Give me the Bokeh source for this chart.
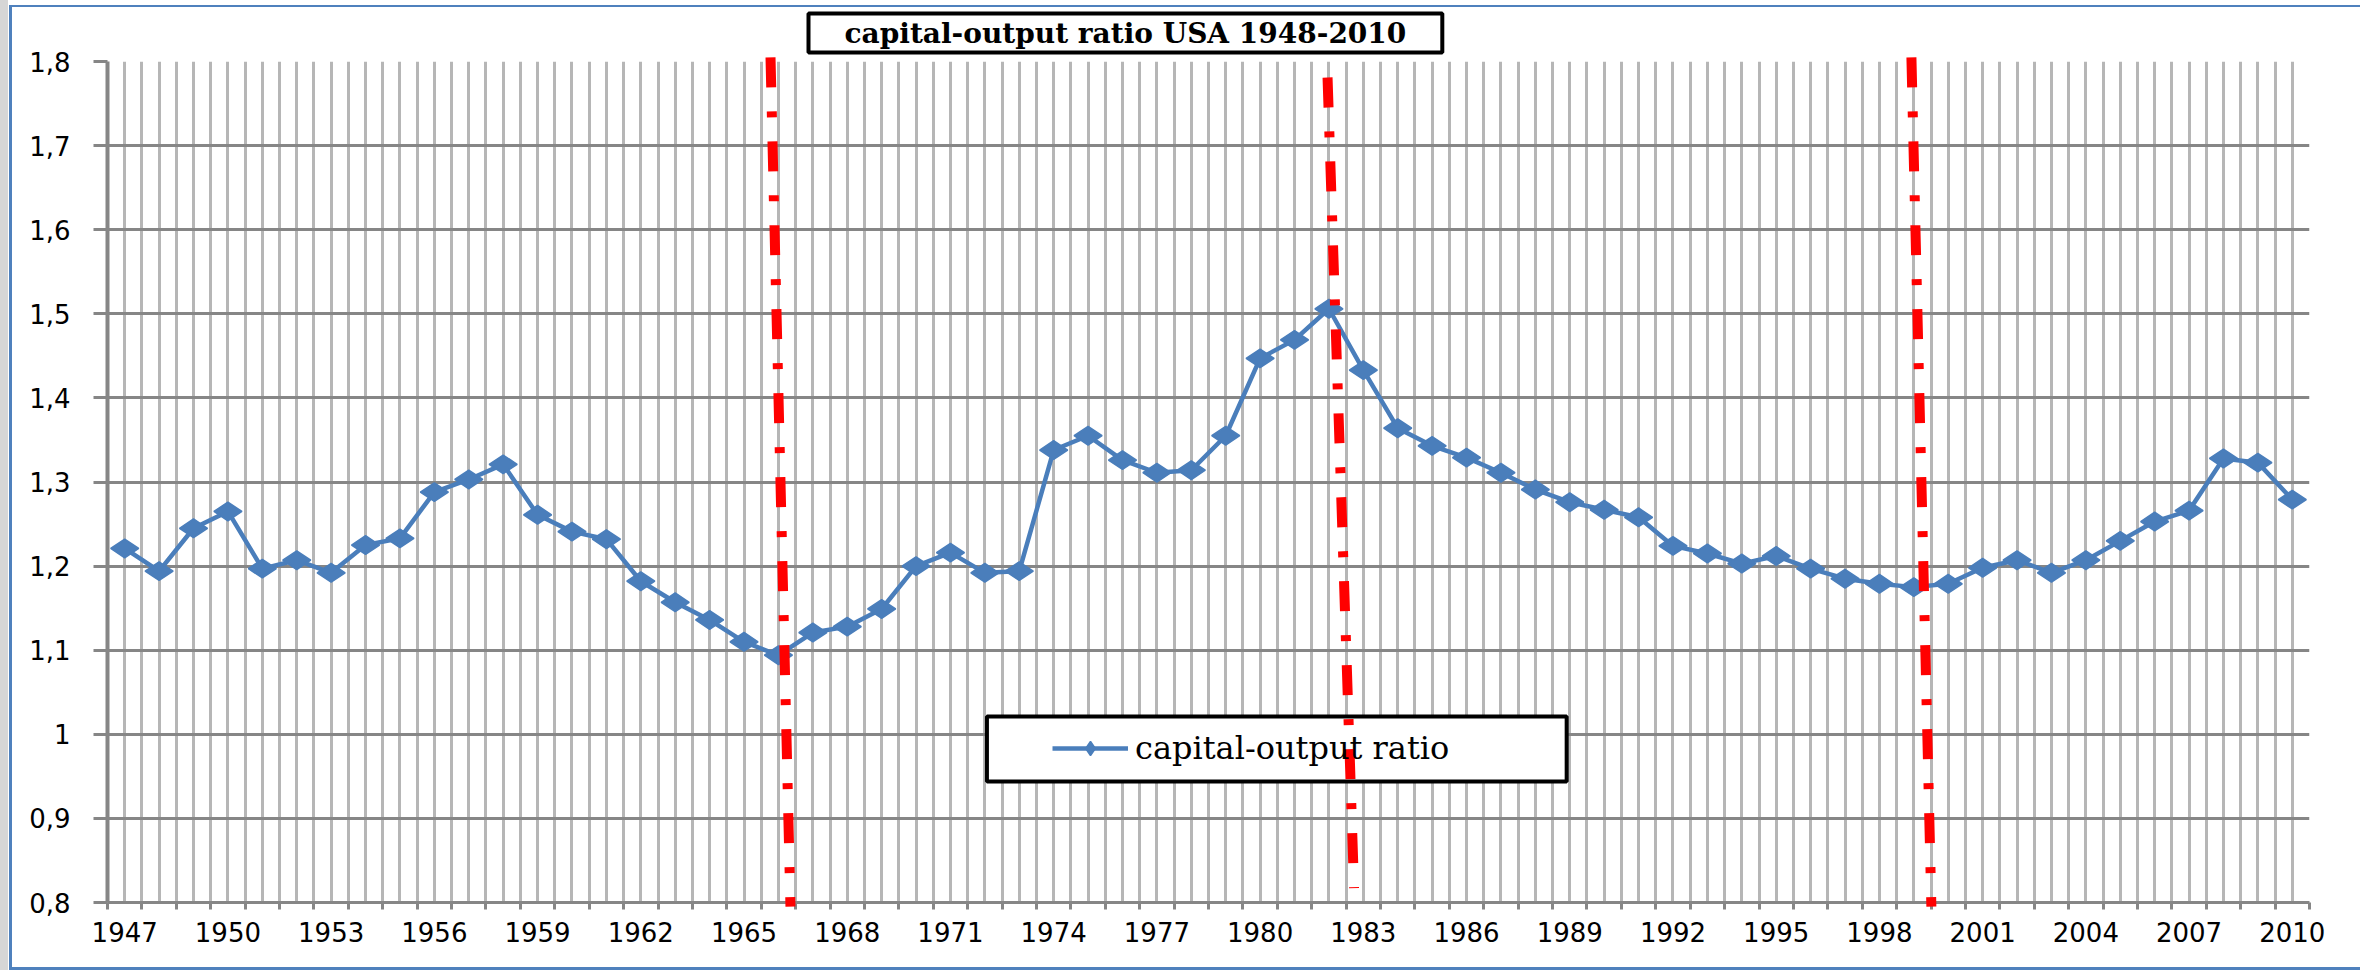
import math
from bokeh.plotting import figure
from bokeh.models import (Range1d, FixedTicker, CustomJSTickFormatter, Legend,
                          LegendItem, BoxAnnotation)
from bokeh.embed import file_html
from bokeh.resources import INLINE

# ---------------- data ----------------
years = list(range(1947, 2011))
ratio = [1.221, 1.194, 1.245, 1.265, 1.197, 1.207, 1.192, 1.225, 1.233, 1.288,
         1.303, 1.321, 1.261, 1.241, 1.232, 1.182, 1.157, 1.136, 1.110, 1.094,
         1.121, 1.128, 1.149, 1.200, 1.216, 1.192, 1.194, 1.338, 1.355, 1.326,
         1.311, 1.314, 1.355, 1.447, 1.469, 1.506, 1.433, 1.364, 1.343, 1.329,
         1.311, 1.291, 1.276, 1.267, 1.258, 1.224, 1.215, 1.203, 1.212, 1.197,
         1.185, 1.179, 1.175, 1.179, 1.198, 1.207, 1.192, 1.207, 1.230, 1.253,
         1.266, 1.328, 1.323, 1.279]
label_years = list(range(1947, 2011, 3))
y_ticks = [0.8, 0.9, 1.0, 1.1, 1.2, 1.3, 1.4, 1.5, 1.6, 1.7, 1.8]

# hand-drawn red dash-dot markers (slightly slanted)
event_top_x = [1965.77, 1981.96, 1998.93]
event_bottom_x = [1966.35, 1982.73, 1999.51]
event_top_y = [1.805, 1.781, 1.805]
event_bottom_y = [0.795, 0.817, 0.795]

title_text = "capital-output ratio USA 1948-2010"
series_name = "capital-output ratio"

# ---------------- figure ----------------
p = figure(width=2360, height=970,
           x_range=Range1d(1946.5, 2010.5), y_range=Range1d(0.8, 1.8),
           output_backend="svg", toolbar_location=None,
           min_border_left=107, min_border_right=51,
           min_border_top=61, min_border_bottom=68,
           background_fill_color="white")
p.border_fill_color = None
p.outline_line_color = None
BORDER = "#4F81BD"
p.styles = {
    "background": (
        f"linear-gradient({BORDER},{BORDER}) 9px 5px / calc(100% - 9px) 2px no-repeat, "
        f"linear-gradient({BORDER},{BORDER}) 9px 5px / 3px calc(100% - 5px) no-repeat, "
        f"linear-gradient({BORDER},{BORDER}) 9px 100% / calc(100% - 9px) 3px no-repeat, "
        "linear-gradient(#D6D6D6,#D6D6D6) 0px 0px / 8px 100% no-repeat, "
        "white"
    )
}

AX = "#868686"

# x axis: category boundaries as minor ticks, labels every 3 years
boundaries = [years[0] - 0.5 + k for k in range(len(years) + 1)]
xa = p.xaxis[0]
xa.ticker = FixedTicker(ticks=label_years, minor_ticks=boundaries)
xa.formatter = CustomJSTickFormatter(code="return String(Math.round(tick));")
xa.major_tick_out = 0
xa.major_tick_in = 0
xa.minor_tick_out = 7
xa.minor_tick_in = 0
xa.minor_tick_line_color = AX
xa.minor_tick_line_width = 3
xa.axis_line_color = AX
xa.axis_line_width = 3
xa.major_label_text_font = "DejaVu Sans"
xa.major_label_text_font_size = "26px"
xa.major_label_text_color = "black"
xa.major_label_standoff = 12

ya = p.yaxis[0]
ya.ticker = FixedTicker(ticks=y_ticks, minor_ticks=[])
ya.formatter = CustomJSTickFormatter(
    code="var v = Math.round(tick*10)/10; return v.toString().replace('.', ',');")
ya.major_tick_out = 14
ya.major_tick_in = 0
ya.major_tick_line_color = AX
ya.major_tick_line_width = 3
ya.minor_tick_out = 0
ya.minor_tick_in = 0
ya.axis_line_color = AX
ya.axis_line_width = 4
ya.major_label_text_font = "DejaVu Sans"
ya.major_label_text_font_size = "26px"
ya.major_label_text_color = "black"
ya.major_label_standoff = 23

# grids
half_steps = [years[0] - 0.5 + 0.5 * k for k in range(2 * len(years) + 1)]
p.xgrid.ticker = FixedTicker(ticks=half_steps)
p.xgrid.grid_line_color = "#B6B6B6"
p.xgrid.grid_line_width = 3
p.ygrid.grid_line_color = AX
p.ygrid.grid_line_width = 3

# series
BLUE = "#4A7EBB"
r_line = p.line(years, ratio, line_color=BLUE, line_width=4.5)
r_pts = p.scatter(years, ratio, marker="diamond", size=28, angle=math.pi / 2,
                  fill_color=BLUE, line_color=BLUE, line_width=1.5)

# legend box + legend
legend_box = BoxAnnotation(left=1972.06, right=1988.91, top=1.0212, bottom=0.9439,
                           fill_color="white", fill_alpha=1.0,
                           line_color="black", line_alpha=1.0, line_width=4)
p.add_layout(legend_box)
legend = Legend(items=[LegendItem(label=series_name, renderers=[r_line, r_pts])],
                location=(945, 135), border_line_color=None,
                background_fill_alpha=0.0, padding=0, margin=0, spacing=0,
                glyph_width=76, glyph_height=36, label_height=36,
                label_standoff=7, label_text_font="DejaVu Serif",
                label_text_font_size="32px", label_text_color="black")
p.add_layout(legend)

# red dash-dot markers, drawn on top
p.segment(x0=event_top_x, y0=event_top_y, x1=event_bottom_x, y1=event_bottom_y,
          line_color="#FF0000", line_width=10, line_dash="30 24 6 24",
          line_cap="butt", level="overlay")

# title in a framed box
t = p.title
t.text = title_text
t.align = "left"
t.offset = 701
t.standoff = 18
t.text_font = "DejaVu Serif"
t.text_font_style = "bold"
t.text_font_size = "28px"
t.text_color = "black"
try:
    t.background_fill_color = "white"
    t.border_line_color = "black"
    t.border_line_width = 4
except Exception:
    pass
try:
    t.padding = dict(left=36, right=36, top=3, bottom=3)
except Exception:
    try:
        t.padding = 5
    except Exception:
        pass

open("out.html", "w").write(file_html(p, INLINE))
